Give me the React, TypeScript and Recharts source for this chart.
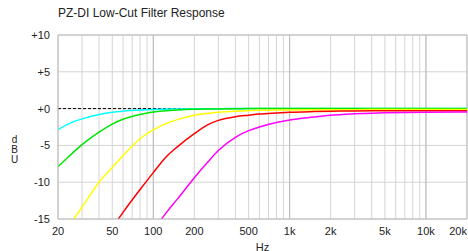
import React from 'react';
import { LineChart, Line, XAxis, YAxis, CartesianGrid, ReferenceLine, Label } from 'recharts';

// frequency points (Hz) and response of each filter setting (dBu)
const freqs = [20, 25, 30, 40, 50, 60, 80, 100, 125, 150, 200, 250, 300, 400, 500, 600, 800, 1000, 1500, 2000, 3000, 5000, 10000, 20000];
const cyanDb = [-2.85, -1.9, -1.4, -0.8, -0.5, -0.35, -0.2, -0.12, -0.08, -0.05, -0.03, -0.02, -0.01, 0, 0, 0, 0, 0, 0, 0, 0, 0, 0, 0];
const greenDb = [-7.9, -6.2, -4.9, -3.2, -2.1, -1.45, -0.8, -0.45, -0.3, -0.2, -0.1, -0.06, -0.04, -0.02, 0, 0, 0, 0, 0, 0, 0, 0, 0, 0];
const yellowDb = [-18, -15.5, -13.4, -10, -8.0, -6.4, -4.1, -2.9, -2.0, -1.5, -0.9, -0.65, -0.5, -0.35, -0.28, -0.24, -0.2, -0.18, -0.16, -0.15, -0.14, -0.13, -0.12, -0.12];
const redDb = [null, null, null, null, -16.2, -14.1, -11.0, -8.7, -6.5, -5.2, -3.4, -2.2, -1.6, -1.1, -0.9, -0.75, -0.6, -0.5, -0.4, -0.35, -0.32, -0.3, -0.3, -0.3];
const magentaDb = [null, null, null, null, null, null, null, -16.6, -14.1, -12.3, -9.4, -7.3, -5.7, -3.9, -3.0, -2.5, -1.9, -1.55, -1.15, -0.9, -0.7, -0.55, -0.5, -0.45];

// grid lines and labels
const gridFreqs = [20, 30, 40, 50, 60, 70, 80, 90, 100, 200, 300, 400, 500, 600, 700, 800, 900, 1000, 2000, 3000, 4000, 5000, 6000, 7000, 8000, 9000, 10000, 20000];
const labeledFreqs = [20, 50, 100, 200, 500, 1000, 2000, 5000, 10000, 20000];
const decadeFreqs = [100, 1000, 10000];
const dbTicks = [-15, -10, -5, 0, 5, 10];
const unitLetters = ['d', 'B', 'U'];

const data = freqs.map((f, i) => ({
  f,
  cyan: cyanDb[i],
  green: greenDb[i],
  yellow: yellowDb[i],
  red: redDb[i],
  magenta: magentaDb[i],
}));

const font = '"Liberation Sans", Arial, sans-serif';

const fmtHz = (v: number) => (v >= 1000 ? `${v / 1000}k` : `${v}`);

const XTick = (props: any) => {
  const { x, y, payload } = props;
  const v = payload.value;
  if (!labeledFreqs.includes(v)) return <g />;
  const last = v === 20000;
  return (
    <text x={x} y={y} dy="0.71em" textAnchor={last ? 'end' : 'middle'} fontSize={11} fill="#222" fontFamily={font}>
      {fmtHz(v)}
    </text>
  );
};

// stacked upright letters for the y-axis unit
const DbuLabel = (props: any) => {
  const { viewBox } = props;
  const x = viewBox.x + 14.5;
  return (
    <g>
      {unitLetters.map((ch, i) => (
        <text key={ch} x={x} y={viewBox.y + 108 + i * 10} textAnchor="middle" fontSize={10} fill="#222" fontFamily={font}>
          {ch}
        </text>
      ))}
    </g>
  );
};

const HzLabel = (props: any) => {
  const { viewBox } = props;
  return (
    <text x={viewBox.x + viewBox.width / 2} y={viewBox.y + 31.5} textAnchor="middle" fontSize={11} fill="#222" fontFamily={font}>
      Hz
    </text>
  );
};

export default function App() {
  return (
    <div style={{ position: 'absolute', left: 0, top: 0, width: 468, height: 251, background: '#fff' }}>
      <div style={{ position: 'absolute', left: 58, top: 6, fontFamily: font, fontSize: 12, color: '#222' }}>
        PZ-DI Low-Cut Filter Response
      </div>
      <LineChart width={468} height={251} data={data} margin={{ top: 35, right: 1, bottom: 0, left: 0 }}>
        <CartesianGrid stroke="#d4d4d4" />
        <XAxis
          dataKey="f"
          type="number"
          scale="log"
          domain={[20, 20000]}
          ticks={gridFreqs}
          interval={0}
          tick={<XTick />}
          tickLine={false}
          axisLine={{ stroke: '#bbb' }}
          height={32}
        >
          <Label content={<HzLabel />} />
        </XAxis>
        <YAxis
          type="number"
          domain={[-15, 10]}
          ticks={dbTicks}
          allowDataOverflow
          interval={0}
          tickLine={false}
          axisLine={{ stroke: '#bbb' }}
          tickFormatter={(v: number) => (v >= 0 ? `+${v}` : `${v}`)}
          tick={{ fontSize: 11, fill: '#222', fontFamily: font }}
          width={58}
        >
          <Label content={<DbuLabel />} />
        </YAxis>
        {decadeFreqs.map((f) => (
          <ReferenceLine key={f} x={f} stroke="#bbb" />
        ))}
        <ReferenceLine x={20000} stroke="#bbb" />
        <ReferenceLine y={10} stroke="#bbb" />
        <ReferenceLine y={0} stroke="#000" strokeDasharray="3 2" />
        <Line type="monotone" dataKey="cyan" stroke="#00ffff" strokeWidth={1.5} dot={false} isAnimationActive={false} />
        <Line type="monotone" dataKey="green" stroke="#00e600" strokeWidth={1.5} dot={false} isAnimationActive={false} />
        <Line type="monotone" dataKey="yellow" stroke="#ffff00" strokeWidth={1.5} dot={false} isAnimationActive={false} />
        <Line type="monotone" dataKey="red" stroke="#ff0000" strokeWidth={1.5} dot={false} isAnimationActive={false} />
        <Line type="monotone" dataKey="magenta" stroke="#ff00ff" strokeWidth={1.5} dot={false} isAnimationActive={false} />
      </LineChart>
    </div>
  );
}
